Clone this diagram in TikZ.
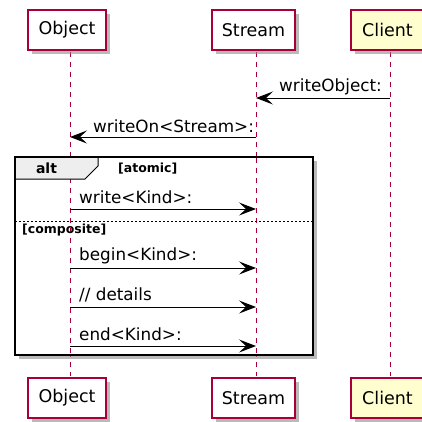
\documentclass[tikz,border=0pt]{standalone}
\usepackage{fontspec}
\setmainfont{DejaVu Sans}
\usetikzlibrary{arrows.meta,shadows}
\definecolor{umlred}{HTML}{A80036}
\definecolor{umlyellow}{HTML}{FEFECE}
\definecolor{tabgray}{HTML}{EEEEEE}
\tikzset{
  part/.style={draw=umlred, line width=1.5pt, minimum height=40pt, inner sep=0pt,
    font=\fontsize{17.5}{20}\selectfont, fill=white,
    drop shadow={shadow xshift=3.5pt, shadow yshift=-3.5pt, fill=black!45, opacity=0.6}},
  lifeline/.style={draw=umlred, line width=1pt, dash pattern=on 5pt off 5pt},
  msg/.style={draw=black, line width=1pt, -{Stealth[length=17pt,width=13pt,inset=7pt]}},
  msglabel/.style={font=\fontsize{16.8}{19}\selectfont, inner sep=0pt},
  framebox/.style={draw=black, line width=2pt},
  guard/.style={font=\bfseries\fontsize{12.5}{14}\selectfont, inner sep=0pt},
}
\begin{document}
\begin{tikzpicture}[x=1pt, y=-1pt]
\useasboundingbox (0,0) rectangle (422,421);
\clip (0,0) rectangle (422,421);
% lifeline coordinates
\coordinate (oT) at (70,52);
\coordinate (oB) at (70,376);
\coordinate (sT) at (256,52);
\coordinate (sB) at (256,376);
\coordinate (cT) at (390,52);
\coordinate (cB) at (390,376);
\draw[lifeline] (oT) -- (oB);
\draw[lifeline] (sT) -- (sB);
\draw[lifeline] (cT) -- (cB);
% participants
\node[part, minimum width=78pt] (objTop) at (67,30) {Object};
\node[part, minimum width=83pt] (strTop) at (253.5,30) {Stream};
\node[part, minimum width=73pt, fill=umlyellow] (cliTop) at (387.5,30) {Client};
\node[part, minimum width=78pt] (objBot) at (67,398) {Object};
\node[part, minimum width=83pt] (strBot) at (253.5,398) {Stream};
\node[part, minimum width=73pt, fill=umlyellow] (cliBot) at (387.5,398) {Client};
% message points
\coordinate (c1) at (390,98);  \coordinate (s1) at (256,98);
\coordinate (s2) at (256,137); \coordinate (o2) at (70,137);
\coordinate (o3) at (70,209);  \coordinate (s3) at (256,209);
\coordinate (o4) at (70,268);  \coordinate (s4) at (256,268);
\coordinate (o5) at (70,307);  \coordinate (s5) at (256,307);
\coordinate (o6) at (70,346);  \coordinate (s6) at (256,346);
\draw[msg] (c1) -- (s1);
\node[msglabel, anchor=west] (l1) at (279,87) {writeObject:};
\draw[msg] (s2) -- (o2);
\node[msglabel, anchor=west] (l2) at (93,126) {writeOn<Stream>:};
% alt frame
\draw[framebox, drop shadow={shadow xshift=3.5pt, shadow yshift=-3.5pt, fill=black!45, opacity=0.6}, fill=none] (15,157) rectangle (313,355);
\fill[white] (16,158) rectangle (312,354);
\draw[lifeline] (70,158) -- (70,354);
\draw[lifeline] (256,158) -- (256,354);
\fill[tabgray] (15,157) -- (98,157) -- (98,166) -- (85,179) -- (15,179) -- cycle;
\draw[line width=1pt] (98,157) -- (98,166) -- (85,179) -- (15,179);
\draw[framebox] (15,157) rectangle (313,355);
\node[font=\bfseries\fontsize{14}{16}\selectfont, inner sep=0pt] (alt) at (46.5,168) {alt};
\node[guard, anchor=west] (g1) at (118,169) {[atomic]};
\draw[line width=1pt, dash pattern=on 2pt off 2pt] (15,221) -- (313,221);
\node[guard, anchor=west] (g2) at (22,230) {[composite]};
\draw[msg] (o3) -- (s3);
\node[msglabel, anchor=west] (l3) at (79,197) {write<Kind>:};
\draw[msg] (o4) -- (s4);
\node[msglabel, anchor=west] (l4) at (79,256) {begin<Kind>:};
\draw[msg] (o5) -- (s5);
\node[msglabel, anchor=west] (l5) at (79,295) {// details};
\draw[msg] (o6) -- (s6);
\node[msglabel, anchor=west] (l6) at (79,334) {end<Kind>:};
\end{tikzpicture}
\end{document}
